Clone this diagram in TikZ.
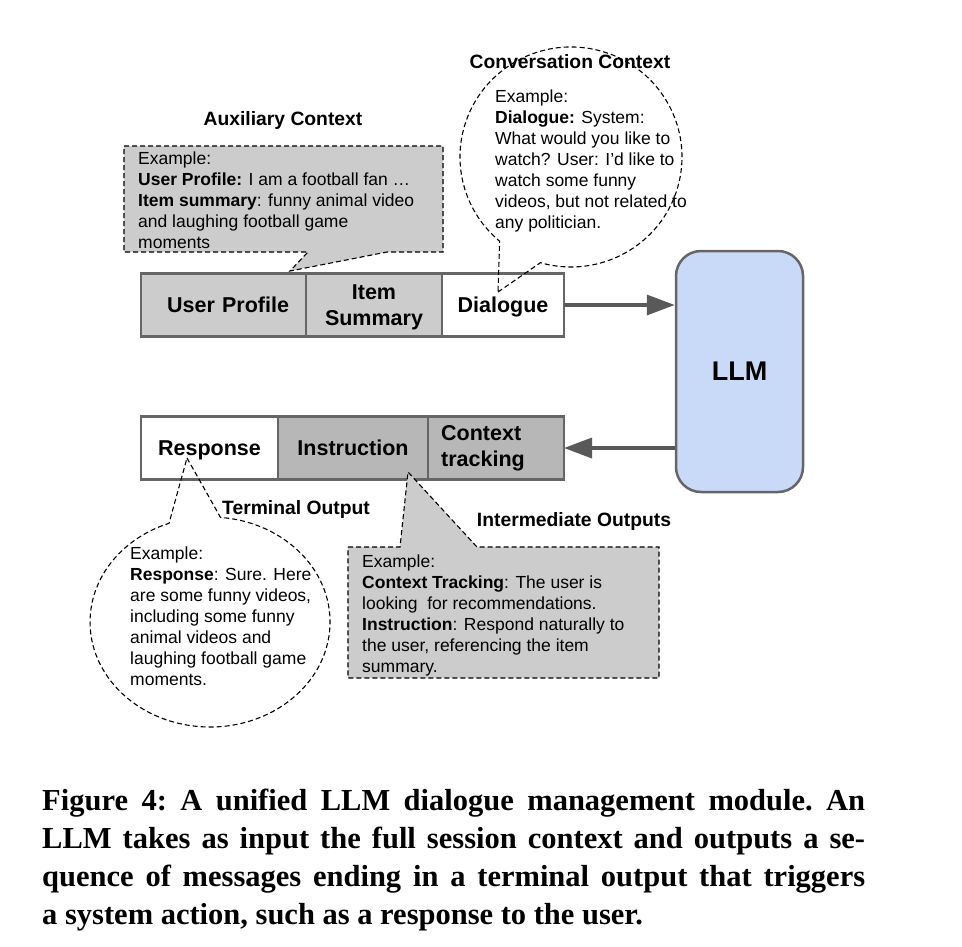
\documentclass[tikz,border=0pt]{standalone}
\usepackage{fontspec}
\setmainfont{Liberation Sans}
\newfontfamily\capfont{Liberation Serif}
\usetikzlibrary{arrows.meta,positioning}
\definecolor{boxline}{HTML}{666666}
\definecolor{flowgray}{HTML}{595959}
\definecolor{lightfill}{HTML}{CCCCCC}
\definecolor{darkfill}{HTML}{B7B7B7}
\definecolor{llmblue}{HTML}{C9DAF8}

\begin{document}
\begin{tikzpicture}[x=1pt, y=-1pt,
	every node/.style={font=\fontsize{17.5}{21}\selectfont},
	cell/.style={draw=boxline, line width=2.5pt, inner sep=0pt, outer sep=0pt, minimum height=63pt, text depth=0pt, align=center, font=\fontsize{21.5}{26}\selectfont\bfseries},
	heading/.style={font=\fontsize{19.3}{23}\selectfont\bfseries},
	note/.style={align=left, anchor=north west, inner sep=0pt},
	callout/.style={draw=black, line width=1.1pt, dash pattern=on 5pt off 3pt},
	flow/.style={draw=flowgray, line width=3.5pt, -{Triangle[length=28pt,width=20pt]}}]
	\useasboundingbox (0,0) rectangle (962,946);

	\node[cell, fill=lightfill, minimum width=165pt, text width=131pt, align=right] (profile) at (223.5,305) {User Profile};
	\node[cell, fill=lightfill, minimum width=136pt, right=0pt of profile] (summary) {Item\\Summary};
	\node[cell, fill=white, minimum width=122pt, right=0pt of summary] (dialogue) {Dialogue};

	\node[cell, fill=white, minimum width=137pt] (response) at (209.5,448) {Response};
	\node[cell, fill=darkfill, minimum width=150pt, right=0pt of response] (instruction) {Instruction};
	\node[cell, fill=darkfill, minimum width=136pt, right=0pt of instruction] (tracking) {};
	\node[font=\fontsize{21.5}{26}\selectfont\bfseries, align=left, anchor=west, inner sep=0pt] (trackinglabel) at ([xshift=13pt]tracking.west) {Context\\tracking};

	\node[draw=boxline, line width=2.5pt, fill=llmblue, rounded corners=25pt, minimum width=127pt, minimum height=241pt, font=\fontsize{27}{32}\selectfont\bfseries] (llm) at (739.5,371.5) {LLM};

	\draw[flow] (dialogue.east) -- (dialogue.east -| llm.west);
	\draw[flow] (llm.west |- tracking.east) -- (tracking.east);

	\coordinate (auxtip) at (290,271);
	\coordinate (convtip) at (498,292);
	\coordinate (termtip) at (187,458);
	\coordinate (intertip) at (408,472);
	\filldraw[callout, fill=lightfill] (124,146) -- (443,146) -- (443,252) -- (387,252) -- (auxtip) -- (308,252) -- (124,252) -- cycle;
	\draw[callout] (convtip) -- (540.4,262.7) arc[start angle=106, end angle=-230, x radius=111, y radius=110] -- cycle;
	\draw[callout] (termtip) -- (220.5,517.4) arc[start angle=-85, end angle=250, x radius=120, y radius=105] -- cycle;
	\filldraw[callout, fill=lightfill] (348,547) -- (400,547) -- (intertip) -- (477,547) -- (659,547) -- (659,678) -- (348,678) -- cycle;

	\node[heading] (auxhead) at (283,121) {Auxiliary Context};
	\node[heading] (convhead) at (570,62) {Conversation Context};
	\node[heading] (termhead) at (296,510) {Terminal Output};
	\node[heading] (interhead) at (574,522) {Intermediate Outputs};

	\node[note] (auxnote) at (138,152) {Example:\\\textbf{User Profile:} I am a football fan …\\\textbf{Item summary}: funny animal video\\and laughing football game\\moments};
	\node[note] (convnote) at (495,90) {Example:\\\textbf{Dialogue:} System:\\What would you like to\\watch? User: I\char39 d like to\\watch some funny\\videos, but not related to\\any politician.};
	\node[note] (termnote) at (130,547) {Example:\\\textbf{Response}: Sure. Here\\are some funny videos,\\including some funny\\animal videos and\\laughing football game\\moments.};
	\node[note] (internote) at (362,555) {Example:\\\textbf{Context Tracking}: The user is\\looking\ \ for recommendations.\\\textbf{Instruction}: Respond naturally to\\the user, referencing the item\\summary.};

	\node[anchor=north west, inner sep=0pt, text width=823pt, align=justify, font=\capfont\bfseries\fontsize{30.5}{38}\selectfont\frenchspacing] (caption) at (42,789) {Figure 4: A unified LLM dialogue management module. An\linebreak LLM takes as input the full session context and outputs a se-\linebreak quence of messages ending in a terminal output that triggers\linebreak a system action, such as a response to the user.};
\end{tikzpicture}
\end{document}
